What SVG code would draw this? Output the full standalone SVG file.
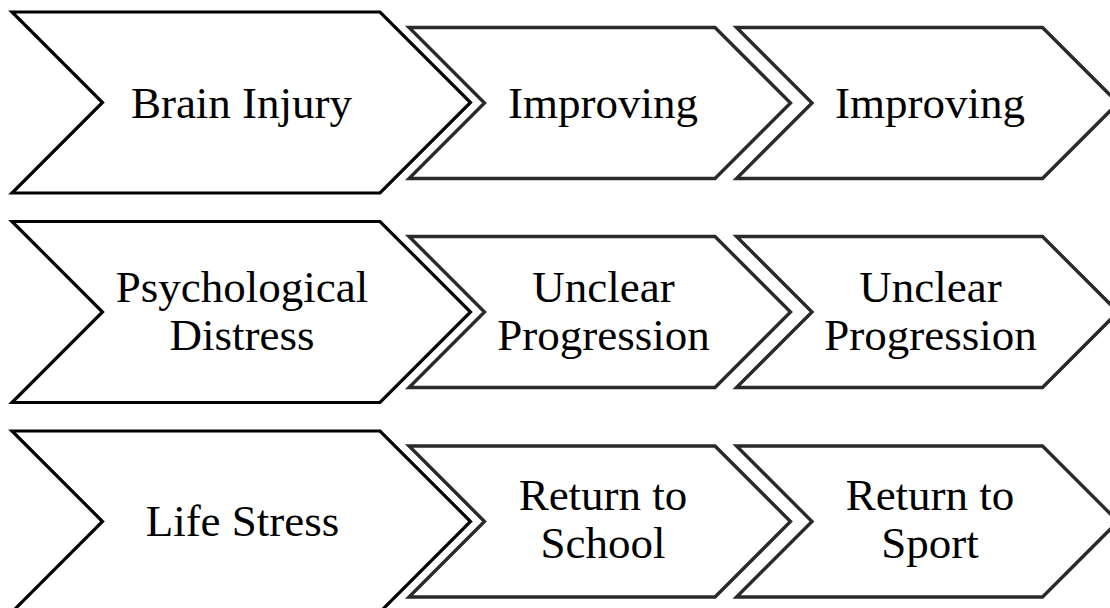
<svg xmlns="http://www.w3.org/2000/svg" width="1110" height="608" viewBox="0 0 1110 608">
<style>
.big{fill:#fff;stroke:#000;stroke-width:3.2;stroke-linejoin:miter}
.small{fill:#fff;stroke:#2a2a2a;stroke-width:3.4;stroke-linejoin:miter}
.t{font-family:"Liberation Serif","Times New Roman",serif;font-size:45px;fill:#000;text-anchor:middle}
</style>
<rect width="1110" height="608" fill="#fff"/>
<defs>
<polygon id="bigShape" points="12,-90.5 380,-90.5 470.5,0 380,90.5 12,90.5 102.5,0"/>
<polygon id="smallShape" points="0,-75.5 306,-75.5 381.5,0 306,75.5 0,75.5 75.5,0"/>
</defs>
<g id="connectors"></g>
<g id="row1">
<g id="brain-injury"><use href="#bigShape" class="big" transform="translate(0,102.5)"/><text class="t" x="241.5" y="118">Brain Injury</text></g>
<g id="improving-1"><use href="#smallShape" class="small" transform="translate(409,103)"/><text class="t" x="603" y="118">Improving</text></g>
<g id="improving-2"><use href="#smallShape" class="small" transform="translate(736.5,103)"/><text class="t" x="930" y="118">Improving</text></g>
</g>
<g id="row2">
<g id="psych-distress"><use href="#bigShape" class="big" transform="translate(0,312)"/><text class="t" x="242" y="302">Psychological</text><text class="t" x="242" y="350">Distress</text></g>
<g id="unclear-1"><use href="#smallShape" class="small" transform="translate(409,312)"/><text class="t" x="603.5" y="302">Unclear</text><text class="t" x="603.5" y="350">Progression</text></g>
<g id="unclear-2"><use href="#smallShape" class="small" transform="translate(736.5,312)"/><text class="t" x="930.5" y="302">Unclear</text><text class="t" x="930.5" y="350">Progression</text></g>
</g>
<g id="row3">
<g id="life-stress"><use href="#bigShape" class="big" transform="translate(0,521.5)"/><text class="t" x="242.5" y="536">Life Stress</text></g>
<g id="return-school"><use href="#smallShape" class="small" transform="translate(409,521.5)"/><text class="t" x="603" y="510">Return to</text><text class="t" x="603" y="558">School</text></g>
<g id="return-sport"><use href="#smallShape" class="small" transform="translate(736.5,521.5)"/><text class="t" x="930" y="510">Return to</text><text class="t" x="930" y="558">Sport</text></g>
</g>
</svg>
